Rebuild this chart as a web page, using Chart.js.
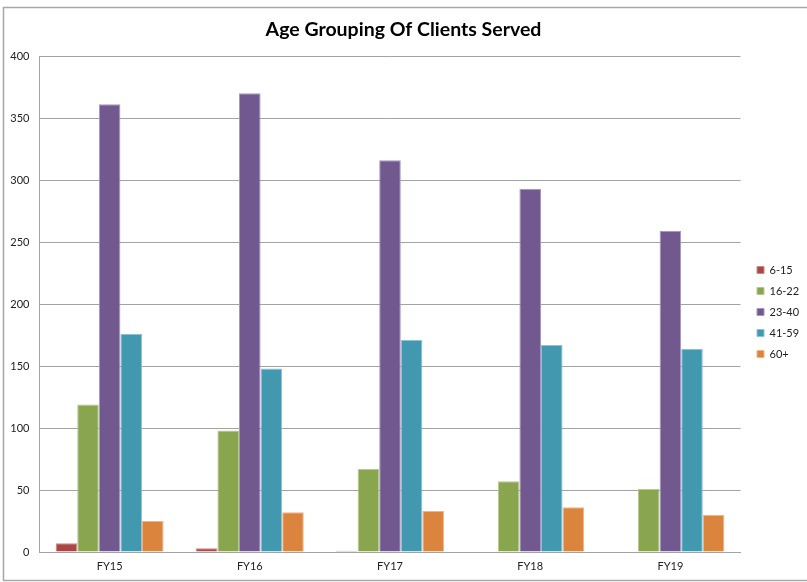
<!DOCTYPE html>
<html lang="en">
<head>
    <meta charset="UTF-8" />
    <title>Age Grouping Of Clients Served</title>
    <script src="https://cdn.jsdelivr.net/npm/chart.js"></script>
    <style>
        html, body { margin: 0; padding: 0; background: #fff; }
    </style>
</head>
<body>
    <canvas id="myChart" width="807" height="582"></canvas>

    <script>
        // data
        const years = ["FY15", "FY16", "FY17", "FY18", "FY19"];
        const ageGroups = ["6-15", "16-22", "23-40", "41-59", "60+"];
        const age6to15 = [7, 3, 1, 0, 0];
        const age16to22 = [119, 98, 67, 57, 51];
        const age23to40 = [361, 370, 316, 293, 259];
        const age41to59 = [176, 148, 171, 167, 164];
        const age60plus = [25, 32, 33, 36, 30];
        const yMin = 0;
        const yMax = 400;
        const yStep = 50;

        const seriesValues = [age6to15, age16to22, age23to40, age41to59, age60plus];
        const fillColors = ["#aa4643", "#89a54e", "#71588f", "#4198af", "#db843d"];
        const edgeColors = ["#c98a88", "#b5ca90", "#a796be", "#8cc3d2", "#f0b487"];

        const fontFamily = "Lato, 'Open Sans', sans-serif";
        const gridGray = "#a3a3a3";

        // outer frame of the chart object
        const framePlugin = {
            id: "frame",
            afterDraw(chart) {
                const ctx = chart.ctx;
                ctx.save();
                ctx.strokeStyle = "#a8a8a8";
                ctx.lineWidth = 1.5;
                ctx.strokeRect(3.5, 7.5, 810, 573);
                ctx.restore();
            }
        };

        // keep the legend narrow and put it where the original sits
        const legendPlace = {
            id: "legendPlace",
            beforeInit(chart) {
                const origFit = chart.legend.fit;
                chart.legend.fit = function () {
                    origFit.bind(chart.legend)();
                    this.width = 66.5;
                };
            },
            afterLayout(chart) {
                const lg = chart.legend;
                const area = chart.chartArea;
                lg.left = area.right + 6.5;
                lg.right = lg.left + 60;
                lg.top = area.top + 8;
                lg.bottom = area.bottom + 8;
            }
        };

        const ctx = document.getElementById("myChart").getContext("2d");

        new Chart(ctx, {
            type: "bar",
            data: {
                labels: years,
                datasets: ageGroups.map((name, i) => ({
                    label: name,
                    data: seriesValues[i],
                    backgroundColor: fillColors[i],
                    borderColor: edgeColors[i],
                    borderWidth: 1,
                    categoryPercentage: 0.77,
                    barPercentage: 1.0,
                })),
            },
            options: {
                responsive: false,
                animation: false,
                layout: {
                    padding: { top: 8, left: 0, right: 0, bottom: 0 },
                },
                plugins: {
                    title: {
                        display: true,
                        text: "Age Grouping Of Clients Served",
                        color: "#000",
                        font: { family: fontFamily, size: 19.5, weight: "bold" },
                        padding: { top: 10.3, bottom: 14.3 },
                    },
                    legend: {
                        position: "right",
                        labels: {
                            boxWidth: 7,
                            boxHeight: 7,
                            padding: 10,
                            color: "#222",
                            font: { family: fontFamily, size: 11 },
                        },
                    },
                    tooltip: { enabled: false },
                },
                scales: {
                    x: {
                        grid: { display: false, drawTicks: false },
                        border: { display: true, color: gridGray, width: 1 },
                        ticks: {
                            color: "#222",
                            padding: 8,
                            font: { family: fontFamily, size: 11 },
                        },
                        afterFit(scale) { scale.height = 30; },
                    },
                    y: {
                        min: yMin,
                        max: yMax,
                        ticks: {
                            stepSize: yStep,
                            color: "#222",
                            padding: 10,
                            font: { family: fontFamily, size: 11 },
                        },
                        grid: { color: gridGray, lineWidth: 1, drawTicks: false },
                        border: { display: true, color: gridGray, width: 1 },
                        afterFit(scale) { scale.width = 39.5; },
                    },
                },
            },
            plugins: [framePlugin, legendPlace],
        });
    </script>
</body>
</html>
